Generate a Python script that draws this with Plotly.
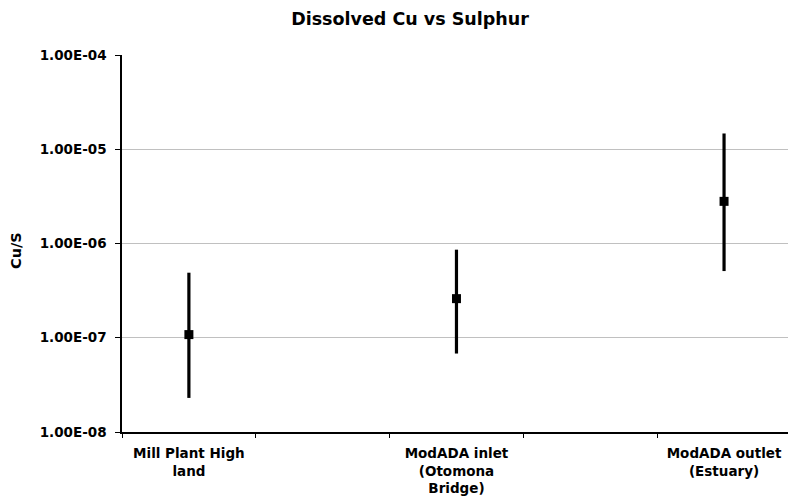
import plotly.graph_objects as go

categories = ["Mill Plant High<br>land", " ", "ModADA inlet<br>(Otomona<br>Bridge)", "  ", "ModADA outlet<br>(Estuary)"]
point_cats = ["Mill Plant High<br>land", "ModADA inlet<br>(Otomona<br>Bridge)", "ModADA outlet<br>(Estuary)"]
cu_s = [1.08e-7, 2.6e-7, 2.8e-6]
cu_s_high = [4.9e-7, 8.6e-7, 1.47e-5]
cu_s_low = [2.3e-8, 6.8e-8, 5.1e-7]
y_tickvals = [1e-8, 1e-7, 1e-6, 1e-5, 1e-4]
y_ticktext = ["1.00E-08", "1.00E-07", "1.00E-06", "1.00E-05", "1.00E-04"]

err_plus = [h - v for h, v in zip(cu_s_high, cu_s)]
err_minus = [v - l for v, l in zip(cu_s, cu_s_low)]

font = "DejaVu Sans, sans-serif"

fig = go.Figure()
fig.add_trace(go.Scatter(
    x=point_cats, y=cu_s, mode="markers",
    marker=dict(symbol="square", size=9, color="black"),
    error_y=dict(type="data", array=err_plus, arrayminus=err_minus,
                 symmetric=False, color="black", thickness=3.2, width=0),
    showlegend=False, hoverinfo="x+y",
))

fig.add_annotation(
    text="Cu/S", xref="paper", yref="paper",
    x=-106/666, y=(432-251)/377, xanchor="center", yanchor="middle",
    textangle=-90, showarrow=False,
    font=dict(family=font, size=14.5, color="black", weight="bold"),
)

fig.update_layout(
    width=788, height=498,
    margin=dict(l=122, r=0, t=55, b=66),
    paper_bgcolor="white", plot_bgcolor="white",
    title=dict(text="Dissolved Cu vs Sulphur", x=410/788, xanchor="center",
               y=1 - 19/498, yanchor="middle",
               font=dict(family=font, size=17.5, color="black", weight="bold")),
    font=dict(family=font, color="black"),
    xaxis=dict(
        type="category", categoryorder="array", categoryarray=categories,
        range=[-0.5, 4.478], tickson="boundaries",
        ticks="outside", ticklen=4, tickcolor="black",
        showline=True, linecolor="black", linewidth=1.5,
        showgrid=False, zeroline=False, ticklabelstandoff=8,
        tickfont=dict(family=font, size=13.5, color="black", weight="bold"),
    ),
    yaxis=dict(
        type="log", range=[-8, -4],
        tickvals=y_tickvals, ticktext=y_ticktext,
        ticks="outside", ticklen=5, tickcolor="black",
        showline=True, linecolor="black", linewidth=1.5,
        showgrid=True, gridcolor="#c0c0c0", gridwidth=1,
        zeroline=False, ticklabelstandoff=6,
        tickfont=dict(family=font, size=13.5, color="black", weight="bold"),
    ),
)

fig.write_html("out.html")
